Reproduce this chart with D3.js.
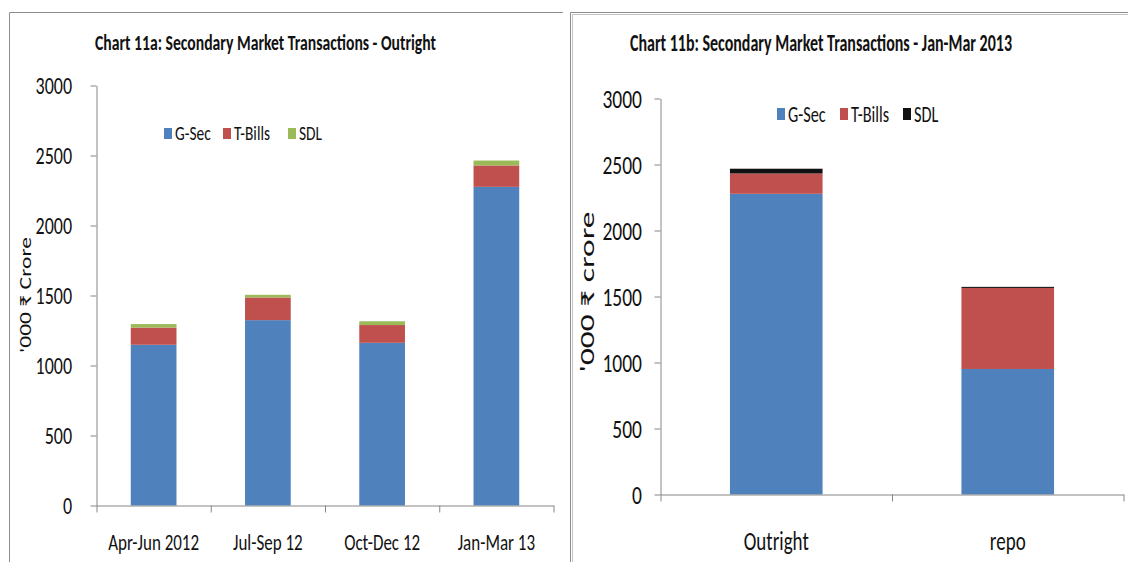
<!DOCTYPE html>
<html>
  <head>
    <meta charset="utf-8">
    <title>Secondary Market Transactions</title>
    <script src="https://cdn.jsdelivr.net/npm/d3@7"></script>
    <style>
    html, body {
        margin: 0;
        padding: 0;
        background: #fff;
    }
    svg text {
        font-family: 'Carlito', 'Liberation Sans Narrow', 'DejaVu Sans Condensed', sans-serif;
        fill: #111;
    }
    .axis path, .axis line {
        stroke: #868686;
    }
    .frame {
        stroke: #8c8c8c;
        fill: none;
    }
    </style>
  </head>

  <body>
    <div id='vis'></div>
    <script>

      // chart 11a
      var quarters = ['Apr-Jun 2012', 'Jul-Sep 12', 'Oct-Dec 12', 'Jan-Mar 13'];
      var gsecA   = [1148, 1324, 1162, 2276];
      var tbillsA = [123, 162, 127, 153];
      var sdlA    = [25, 19, 27, 35];

      // chart 11b
      var segments = ['Outright', 'repo'];
      var gsecB   = [2278, 951];
      var tbillsB = [154, 614];
      var sdlB    = [36, 8];

      var seriesNames = ['G-Sec', 'T-Bills', 'SDL'];
      var yTicks = [0, 500, 1000, 1500, 2000, 2500, 3000];

      var svg = d3.select('#vis').append('svg')
          .attr('width', 1128)
          .attr('height', 562);

      // panel frames
      svg.append('path').attr('class', 'frame')
          .attr('d', 'M9.5,562 V12.5 H563');
      svg.append('path').attr('class', 'frame')
          .attr('d', 'M570.5,562 V12.5 H1128');
      svg.append('path').attr('class', 'frame')
          .attr('d', 'M572.5,562 V14.5 H1128').style('stroke', '#c4c4c4');

      // the source picture is squeezed sideways, so text is drawn taller than wide
      function stretch(sel, k) {
          sel.each(function() {
            var t = d3.select(this);
            var y0 = +t.attr('y') || 0;
            t.attr('transform', 'translate(0,' + (y0 * (1 - k)) + ') scale(1,' + k + ')');
          });
      }

      function createChart(cfg) {
          var g = svg.append('g');
          var k = cfg.k;

          var rows = cfg.cats.map(function(c, i) {
            return {cat: c, 'G-Sec': cfg.gsec[i], 'T-Bills': cfg.tbills[i], 'SDL': cfg.sdl[i]};
          });
          var stacked = d3.stack().keys(seriesNames)(rows);

          var x = d3.scaleBand()
              .domain(cfg.cats)
              .range([cfg.x0, cfg.x1])
              .paddingInner(0.6)
              .paddingOuter(0.3);
          var xEdge = d3.scaleLinear()
              .domain([0, cfg.cats.length])
              .range([cfg.x0, cfg.x1]);
          var y = d3.scaleLinear()
              .domain([0, 3000])
              .range([cfg.y0, cfg.y1]);
          var color = d3.scaleOrdinal()
              .domain(seriesNames)
              .range(cfg.colors);

          g.selectAll('g.layer')
              .data(stacked)
              .enter()
              .append('g')
              .attr('class', 'layer')
              .attr('fill', function(d) { return color(d.key); })
              .selectAll('rect')
              .data(function(d) { return d; })
              .enter()
              .append('rect')
              .attr('x', function(d) { return x(d.data.cat); })
              .attr('width', x.bandwidth())
              .attr('y', function(d) { return y(d[1]); })
              .attr('height', function(d) { return y(d[0]) - y(d[1]); });

          // y axis
          var yAxis = g.append('g')
              .attr('class', 'axis')
              .attr('transform', 'translate(' + cfg.x0 + ',0)')
              .call(d3.axisLeft(y).tickValues(yTicks).tickFormat(d3.format('d'))
                    .tickSize(6).tickSizeOuter(0).tickPadding(cfg.yPad));
          yAxis.selectAll('text').style('font-size', cfg.tickSize + 'px').call(stretch, k);

          // x axis: boundary ticks
          g.append('g')
              .attr('class', 'axis')
              .attr('transform', 'translate(0,' + cfg.y0 + ')')
              .call(d3.axisBottom(xEdge).tickValues(d3.range(cfg.cats.length + 1))
                    .tickSize(7).tickSizeOuter(0).tickFormat(''));

          // x axis: category labels
          var xAxis = g.append('g')
              .attr('class', 'axis')
              .attr('transform', 'translate(0,' + cfg.y0 + ')')
              .call(d3.axisBottom(x).tickSize(0).tickPadding(cfg.xPad));
          xAxis.select('.domain').remove();
          xAxis.selectAll('text').style('font-size', cfg.catSize + 'px').call(stretch, cfg.catK);

          // title
          g.append('text')
              .attr('x', cfg.titleX)
              .attr('y', cfg.titleY)
              .attr('text-anchor', 'middle')
              .attr('textLength', cfg.titleLen)
              .attr('lengthAdjust', 'spacingAndGlyphs')
              .style('font-size', cfg.titleSize + 'px')
              .style('font-weight', 'bold')
              .text(cfg.title)
              .call(stretch, k);

          // y title, stretched along its own baseline
          g.append('text')
              .attr('transform', 'translate(' + cfg.yTitleX + ',' + cfg.yTitleY + ') rotate(-90)')
              .attr('text-anchor', 'middle')
              .attr('dy', '0.35em')
              .attr('textLength', cfg.yTitleLen)
              .attr('lengthAdjust', 'spacingAndGlyphs')
              .style('font-size', cfg.yTitleSize + 'px')
              .text(cfg.yTitle);

          // legend
          var leg = g.selectAll('g.leg')
              .data(seriesNames)
              .enter()
              .append('g')
              .attr('class', 'leg')
              .attr('transform', function(d, i) { return 'translate(' + cfg.legX[i] + ',' + cfg.legY + ')'; });
          leg.append('rect')
              .attr('x', 0)
              .attr('y', -cfg.legBox / 2)
              .attr('width', 8)
              .attr('height', cfg.legBox)
              .attr('fill', function(d) { return color(d); });
          leg.append('text')
              .attr('x', 11)
              .attr('dy', '0.33em')
              .style('font-size', cfg.legSize + 'px')
              .text(function(d) { return d; })
              .call(stretch, k);
      }

      createChart({
          cats: quarters, gsec: gsecA, tbills: tbillsA, sdl: sdlA,
          colors: ['#4f81bd', '#c0504d', '#9bbb59'],
          x0: 96.5, x1: 553.5, y0: 505.5, y1: 85.5, k: 1.35, catK: 1.35,
          yPad: 18.5, tickSize: 18, xPad: 28, catSize: 17,
          title: 'Chart 11a: Secondary Market Transactions - Outright',
          titleX: 265.5, titleY: 50, titleLen: 341, titleSize: 16,
          yTitle: "'000 \u20B9 Crore", yTitleX: 25, yTitleY: 295, yTitleSize: 17, yTitleLen: 116,
          legX: [164, 223, 288], legY: 133.5, legSize: 15.4, legBox: 11
      });

      createChart({
          cats: segments, gsec: gsecB, tbills: tbillsB, sdl: sdlB,
          colors: ['#4f81bd', '#c0504d', '#111111'],
          x0: 660.5, x1: 1123.5, y0: 494.5, y1: 98.5, k: 1.4, catK: 1.45,
          yPad: 12.5, tickSize: 19.5, xPad: 36, catSize: 19,
          title: 'Chart 11b: Secondary Market Transactions - Jan-Mar 2013',
          titleX: 821, titleY: 51.5, titleLen: 382, titleSize: 17,
          yTitle: "'000 \u20B9 crore", yTitleX: 587, yTitleY: 292, yTitleSize: 20, yTitleLen: 161,
          legX: [777, 840, 903], legY: 114, legSize: 16.3, legBox: 12
      });
    </script>
  </body>
</html>
